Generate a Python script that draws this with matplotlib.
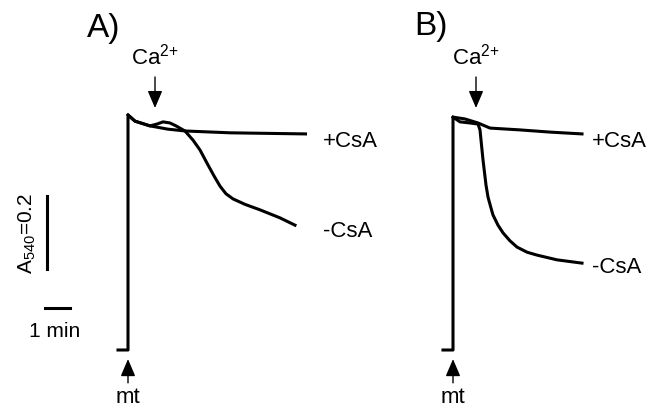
import matplotlib
matplotlib.use("Agg")
import matplotlib.pyplot as plt

plt.rcParams["font.family"] = ["Liberation Sans", "DejaVu Sans"]
plt.rcParams["mathtext.default"] = "regular"

# time after mitochondria (mt) addition, min; absorbance at 540 nm (relative)
a_plus_t = [-0.4, 0, 0, 0.28, 0.88, 1.6, 2.3, 4.1, 7.1]
a_plus_abs = [0, 0, 0.644, 0.627, 0.614, 0.605, 0.600, 0.595, 0.592]

a_minus_t = [0, 0.28, 0.88, 1.16, 1.4, 1.68, 1.92, 2.28, 2.6, 2.88, 3.16,
             3.44, 3.68, 3.92, 4.2, 4.68, 5.28, 6.08, 6.68]
a_minus_abs = [0.644, 0.627, 0.614, 0.619, 0.625, 0.622, 0.614, 0.600, 0.575,
               0.548, 0.512, 0.477, 0.449, 0.428, 0.414, 0.399, 0.384, 0.362,
               0.342]

b_plus_t = [-0.4, 0, 0, 0.48, 1.0, 1.48, 2.68, 3.88, 5.16]
b_plus_abs = [0, 0, 0.638, 0.633, 0.622, 0.608, 0.603, 0.597, 0.592]

b_minus_t = [0, 0.28, 0.68, 1.0, 1.08, 1.2, 1.32, 1.4, 1.52, 1.6, 1.8, 2.0,
             2.28, 2.56, 2.96, 3.36, 4.16, 5.16]
b_minus_abs = [0.638, 0.625, 0.622, 0.619, 0.603, 0.521, 0.452, 0.419, 0.389,
               0.370, 0.342, 0.321, 0.299, 0.282, 0.268, 0.260, 0.247, 0.238]

ca_time = [1.08, 0.92]      # Ca2+ addition, panel A and B
panel_labels = ["A)", "B)"]

# layout: 25 px per min, 365 px per absorbance unit
px_min = 25.0
px_abs = 365.0

fig = plt.figure(figsize=(6.64, 4.08), dpi=100)
axA = fig.add_axes([0, 0, 0.5, 1])
axB = fig.add_axes([0.5, 0, 0.5, 1])
ylim = (-58 / px_abs, 350 / px_abs)
axA.set_xlim(-128 / px_min, 204 / px_min)
axB.set_xlim(-121 / px_min, 211 / px_min)
for ax in (axA, axB):
    ax.set_ylim(*ylim)
    ax.axis("off")

lw = 2.2
axA.plot(a_plus_t, a_plus_abs, color="black", lw=lw)
axA.plot(a_minus_t, a_minus_abs, color="black", lw=lw)
axB.plot(b_plus_t, b_plus_abs, color="black", lw=lw)
axB.plot(b_minus_t, b_minus_abs, color="black", lw=lw)

fs = 16
arrow = dict(arrowstyle="-|>,head_length=1.05,head_width=0.45", lw=1,
             color="black", shrinkA=0, shrinkB=0, mutation_scale=10)

label_pos = [(-1.64, 0.858, 7.8, 0.556, 7.8, 0.310),
             (-1.56, 0.863, 5.56, 0.556, 5.56, 0.211)]
for ax, lab, tca, pos in zip((axA, axB), panel_labels, ca_time, label_pos):
    ax.text(pos[0], pos[1], lab, fontsize=24, va="baseline", ha="left")
    ax.text(tca, 0.781, r"Ca$^{2{+}}$", fontsize=fs,
            ha="center", va="baseline")
    ax.annotate("", xy=(tca, 0.663), xytext=(tca, 0.748), arrowprops=arrow)
    ax.annotate("", xy=(0, -0.025), xytext=(0, -0.090), arrowprops=arrow)
    ax.text(0, -0.145, "mt", fontsize=fs, ha="center", va="baseline")
    ax.text(pos[2], pos[3], "+CsA", fontsize=fs, ha="left", va="baseline")
    ax.text(pos[4], pos[5], "-CsA", fontsize=fs, ha="left", va="baseline")

# scale bars
axA.plot([-3.24, -3.24], [0.222, 0.422], color="black", lw=2.2)
axA.plot([-3.32, -2.32], [0.115, 0.115], color="black", lw=2.2)
axA.text(-4.04, 0.320, r"A$_{540}$=0.2", fontsize=15,
         rotation=90, ha="center", va="center")
axA.text(-2.92, 0.036, "1 min", fontsize=15, ha="center", va="baseline")

fig.savefig("out.png", dpi=100, facecolor="white")
